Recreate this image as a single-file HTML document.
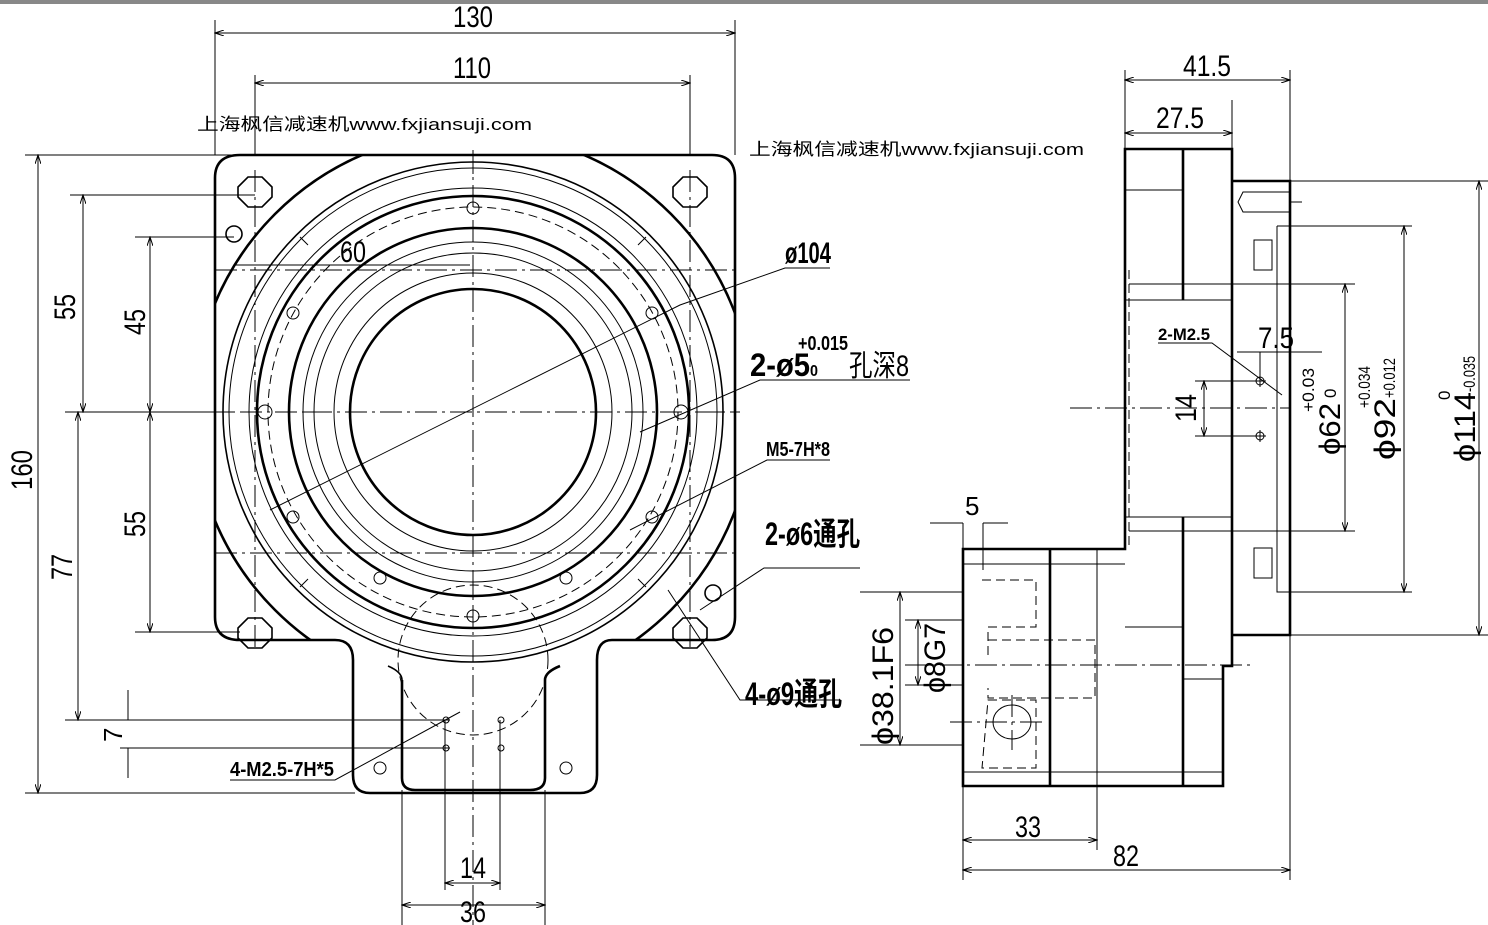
<!DOCTYPE html>
<html><head><meta charset="utf-8"><style>
html,body{margin:0;padding:0;background:#fff}
svg{display:block}
text{font-family:"Liberation Sans","Noto Sans CJK SC",sans-serif;fill:#000}
.t{stroke:#000;stroke-width:1;fill:none}
.k{stroke:#000;stroke-width:2.6;fill:none}
.m{stroke:#000;stroke-width:1.6;fill:none}
.d{stroke:#000;stroke-width:1;fill:none;stroke-dasharray:9 5}
.c{stroke:#000;stroke-width:1;fill:none;stroke-dasharray:22 5 3 5}
</style></head><body>
<svg width="1488" height="925" viewBox="0 0 1488 925" xmlns="http://www.w3.org/2000/svg">
<defs>
<clipPath id="plate"><path d="M240 155 H712 Q735 155 735 178 V617 Q735 640 712 640 H240 Q215 640 215 617 V178 Q215 155 240 155 Z"/></clipPath>
<marker id="a" markerWidth="10" markerHeight="6" refX="9" refY="3" orient="auto-start-reverse"><path d="M0 0 L9 3 L0 6" fill="none" stroke="#000" stroke-width="1"/></marker>
</defs>
<rect x="0" y="0" width="1488" height="4" fill="#888"/>

<!-- LEFT VIEW -->
<path class="k" d="M240 155 H712 Q735 155 735 178 V617 Q735 640 712 640 H612 Q597 640 597 660 V775 Q597 793 580 793 H370 Q353 793 353 775 V660 Q353 640 335 640 H240 Q215 640 215 617 V178 Q215 155 240 155 Z"/>
<path class="k" d="M402 680 V778 Q402 790 415 790 H530 Q545 790 545 778 V680 Q545 672 560 666"/>
<path class="m" d="M402 680 Q402 672 388 666"/>
<g clip-path="url(#plate)"><circle class="k" cx="473" cy="412" r="280"/></g>
<circle class="m" cx="473" cy="412" r="250"/>
<circle class="t" cx="473" cy="412" r="244"/>
<circle class="t" cx="473" cy="412" r="224"/>
<circle class="k" cx="473" cy="412" r="216"/>
<circle class="d" cx="473" cy="412" r="205"/>
<circle class="k" cx="473" cy="412" r="184"/>
<circle class="t" cx="473" cy="412" r="170"/>
<circle class="t" cx="473" cy="412" r="159"/>
<circle class="t" cx="473" cy="412" r="139"/>
<circle class="k" cx="473" cy="412" r="123"/>
<g stroke="#000" stroke-width="1">
<path d="M473 162 v12 M473 650 v12 M223 412 h12 M711 412 h12 M300 237 l8 8 M646 237 l-8 8 M300 587 l8-8 M646 587 l-8-8 M473 228 v14 M473 582 v14 M303 412 h14 M629 412 h14"/>
</g>
<path class="c" d="M473 150 V925 M205 412 H740 M215 270 H735 M215 553 H735 M255 170 V650 M690 170 V650"/>
<circle class="d" cx="473" cy="660" r="75"/>
<g class="m">
<polygon points="248,177 262,177 272,187 272,197 262,207 248,207 238,197 238,187"/>
<polygon points="683,177 697,177 707,187 707,197 697,207 683,207 673,197 673,187"/>
<polygon points="248,618 262,618 272,628 272,638 262,648 248,648 238,638 238,628"/>
<polygon points="683,618 697,618 707,628 707,638 697,648 683,648 673,638 673,628"/>
</g>
<circle class="m" cx="234" cy="234" r="8"/><circle class="m" cx="713" cy="593" r="8"/>
<g class="t">
<circle cx="473" cy="208" r="6"/><circle cx="473" cy="616" r="6"/><circle cx="265" cy="412" r="7"/><circle cx="681" cy="412" r="7"/>
<circle cx="293" cy="313" r="6"/><circle cx="652" cy="313" r="6"/><circle cx="293" cy="517" r="6"/><circle cx="652" cy="517" r="6"/>
<circle cx="380" cy="578" r="6"/><circle cx="566" cy="578" r="6"/><circle cx="380" cy="768" r="6"/><circle cx="566" cy="768" r="6"/>
<circle cx="446" cy="720" r="3"/><circle cx="501" cy="720" r="3"/><circle cx="446" cy="748" r="3"/><circle cx="501" cy="748" r="3"/>
</g>
<g class="t">
<path d="M270 510 L680 305 L785 268 H830"/>
<path d="M640 432 L760 380 H910"/>
<path d="M630 530 L767 460 H830"/>
<path d="M700 610 L764 568 H860"/>
<path d="M668 590 L740 700 H840"/>
<path d="M460 712 L335 780 H230"/>
<path d="M235 265 H470"/>
</g>
<g class="t">
<path d="M215 20 V155 M735 20 V155 M255 75 V155 M690 75 V155"/>
<path d="M215 33 H735" marker-start="url(#a)" marker-end="url(#a)"/>
<path d="M255 83 H690" marker-start="url(#a)" marker-end="url(#a)"/>
<path d="M25 155 H240 M25 793 H355 M70 195 H255 M135 237 H234 M65 412 H215 M65 720 H450 M120 748 H450 M135 632 H240"/>
<path d="M38 155 V793" marker-start="url(#a)" marker-end="url(#a)"/>
<path d="M83 195 V412" marker-start="url(#a)" marker-end="url(#a)"/>
<path d="M78 412 V720" marker-start="url(#a)" marker-end="url(#a)"/>
<path d="M150 237 V412" marker-start="url(#a)" marker-end="url(#a)"/>
<path d="M150 412 V632" marker-start="url(#a)" marker-end="url(#a)"/>
<path d="M128 690 V720 M128 748 V778"/>
<path d="M445 720 V890 M500 720 V890 M402 790 V925 M545 790 V925"/>
<path d="M445 883 H500" marker-start="url(#a)" marker-end="url(#a)"/>
<path d="M402 905 H545" marker-start="url(#a)" marker-end="url(#a)"/>
</g>
<g font-size="30">
<text x="453" y="27" textLength="40" lengthAdjust="spacingAndGlyphs">130</text>
<text x="453" y="78" textLength="38" lengthAdjust="spacingAndGlyphs">110</text>
<text x="340" y="262" textLength="26" lengthAdjust="spacingAndGlyphs">60</text>
<text x="460" y="878" textLength="26" lengthAdjust="spacingAndGlyphs">14</text>
<text x="460" y="922" textLength="26" lengthAdjust="spacingAndGlyphs">36</text>
<text transform="translate(75,320) rotate(-90)" textLength="26" lengthAdjust="spacingAndGlyphs">55</text>
<text transform="translate(145,335) rotate(-90)" textLength="26" lengthAdjust="spacingAndGlyphs">45</text>
<text transform="translate(145,537) rotate(-90)" textLength="26" lengthAdjust="spacingAndGlyphs">55</text>
<text transform="translate(72,580) rotate(-90)" textLength="26" lengthAdjust="spacingAndGlyphs">77</text>
<text transform="translate(32,490) rotate(-90)" textLength="40" lengthAdjust="spacingAndGlyphs">160</text>
<text transform="translate(122,742) rotate(-90)" font-size="26">7</text>
</g>
<g font-weight="bold">
<text x="785" y="263" font-size="30" textLength="46" lengthAdjust="spacingAndGlyphs">ø104</text>
<text x="750" y="376" font-size="32" textLength="60" lengthAdjust="spacingAndGlyphs">2-ø5</text>
<text x="810" y="376" font-size="16" textLength="8" lengthAdjust="spacingAndGlyphs">0</text>
<text x="798" y="350" font-size="20" textLength="50" lengthAdjust="spacingAndGlyphs">+0.015</text>
<text x="766" y="456" font-size="20" textLength="64" lengthAdjust="spacingAndGlyphs">M5-7H*8</text>
<text x="765" y="545" font-size="32" textLength="95" lengthAdjust="spacingAndGlyphs">2-ø6通孔</text>
<text x="745" y="705" font-size="32" textLength="97" lengthAdjust="spacingAndGlyphs">4-ø9通孔</text>
<text x="230" y="776" font-size="20" textLength="104" lengthAdjust="spacingAndGlyphs">4-M2.5-7H*5</text>
</g>
<text x="849" y="376" font-size="30" textLength="60" lengthAdjust="spacingAndGlyphs">孔深8</text>
<text x="197" y="130" font-size="17" textLength="335" lengthAdjust="spacingAndGlyphs">上海枫信减速机www.fxjiansuji.com</text>
<text x="749" y="155" font-size="17" textLength="335" lengthAdjust="spacingAndGlyphs">上海枫信减速机www.fxjiansuji.com</text>

<!-- RIGHT VIEW -->
<g class="k">
<path d="M1125 149 H1232 V666 H1223 V786 H963 V549 H1125 Z"/>
<path d="M1183 149 V300 M1183 517 V786 M1050 549 V786"/>
<path d="M1232 181 H1290 V635 H1232"/>
</g>
<g class="t">
<path d="M1125 190 H1183 M1125 300 H1232 M1125 517 H1232 M1125 627 H1183 M1183 679 H1223 M963 564 H1125 M963 772 H1223 M1097 549 V850"/>
<path d="M1277 226 V592 H1290 M1277 226 H1290"/>
<path d="M1243 192 H1290 V212 H1243 L1238 202 Z M1290 202 H1302"/>
<rect x="1254" y="240" width="18" height="30"/><rect x="1254" y="548" width="18" height="30"/>
<circle cx="1260" cy="381" r="4"/><circle cx="1260" cy="436" r="4"/>
<path d="M1254 381 h12 M1260 375 v12 M1254 436 h12 M1260 430 v12"/>
</g>
<g class="d">
<path d="M1129 270 V549 M1125 248 V270"/>
<path d="M982 580 H1036 V627 H988 V658 M988 640 H1095 V698 H988 V688 M988 700 H1036 V768 H982 Z"/>
</g>
<path class="c" d="M1070 408 H1290 M905 665 H1255 M950 722 H1045 M1012 695 V750"/>
<ellipse class="t" cx="1012" cy="722" rx="19" ry="17"/>
<g class="t">
<path d="M1125 70 V149 M1232 100 V149 M1290 70 V181"/>
<path d="M1125 80 H1290" marker-start="url(#a)" marker-end="url(#a)"/>
<path d="M1125 133 H1232" marker-start="url(#a)" marker-end="url(#a)"/>
<path d="M1290 181 H1488 M1290 635 H1488 M1277 226 H1412 M1277 592 H1412 M1129 284 H1355 M1129 531 H1355"/>
<path d="M1479 181 V635" marker-start="url(#a)" marker-end="url(#a)"/>
<path d="M1404 226 V592" marker-start="url(#a)" marker-end="url(#a)"/>
<path d="M1345 284 V531" marker-start="url(#a)" marker-end="url(#a)"/>
<path d="M1195 381 H1262 M1195 436 H1262"/>
<path d="M1204 381 V436" marker-start="url(#a)" marker-end="url(#a)"/>
<path d="M1237 352 H1322 M1260 352 V381"/>
<path d="M1158 343 H1212 L1282 395"/>
<path d="M930 523 H963 M983 523 H1008 M963 523 V549 M983 523 V570"/>
<path d="M860 592 H963 M860 745 H963 M905 620 H963 M905 685 H963"/>
<path d="M900 592 V745" marker-start="url(#a)" marker-end="url(#a)"/>
<path d="M918 620 V685" marker-start="url(#a)" marker-end="url(#a)"/>
<path d="M963 786 V880 M1097 786 V850 M1290 635 V880"/>
<path d="M963 840 H1097" marker-start="url(#a)" marker-end="url(#a)"/>
<path d="M963 870 H1290" marker-start="url(#a)" marker-end="url(#a)"/>
</g>
<g font-size="30">
<text x="1183" y="76" textLength="48" lengthAdjust="spacingAndGlyphs">41.5</text>
<text x="1156" y="128" textLength="48" lengthAdjust="spacingAndGlyphs">27.5</text>
<text x="1258" y="348" textLength="36" lengthAdjust="spacingAndGlyphs">7.5</text>
<text x="965" y="515" font-size="26">5</text>
<text x="1015" y="837" textLength="26" lengthAdjust="spacingAndGlyphs">33</text>
<text x="1113" y="866" textLength="26" lengthAdjust="spacingAndGlyphs">82</text>
<text transform="translate(1196,422) rotate(-90)" textLength="28" lengthAdjust="spacingAndGlyphs">14</text>
<text transform="translate(1340,455) rotate(-90)" textLength="52" lengthAdjust="spacingAndGlyphs">ϕ62</text>
<text transform="translate(1395,460) rotate(-90)" textLength="62" lengthAdjust="spacingAndGlyphs">ϕ92</text>
<text transform="translate(1475,462) rotate(-90)" textLength="70" lengthAdjust="spacingAndGlyphs">ϕ114</text>
<text transform="translate(893,745) rotate(-90)" textLength="118" lengthAdjust="spacingAndGlyphs">ϕ38.1F6</text>
<text transform="translate(945,693) rotate(-90)" textLength="70" lengthAdjust="spacingAndGlyphs">ϕ8G7</text>
</g>
<g font-size="17">
<text x="1158" y="340" font-weight="bold" textLength="52" lengthAdjust="spacingAndGlyphs">2-M2.5</text>
<text transform="translate(1314,412) rotate(-90)" textLength="44" lengthAdjust="spacingAndGlyphs">+0.03</text>
<text transform="translate(1336,398) rotate(-90)">0</text>
<text transform="translate(1370,408) rotate(-90)" textLength="42" lengthAdjust="spacingAndGlyphs">+0.034</text>
<text transform="translate(1395,398) rotate(-90)" textLength="40" lengthAdjust="spacingAndGlyphs">+0.012</text>
<text transform="translate(1450,400) rotate(-90)">0</text>
<text transform="translate(1475,392) rotate(-90)" textLength="36" lengthAdjust="spacingAndGlyphs">-0.035</text>
</g>
</svg>
</body></html>
